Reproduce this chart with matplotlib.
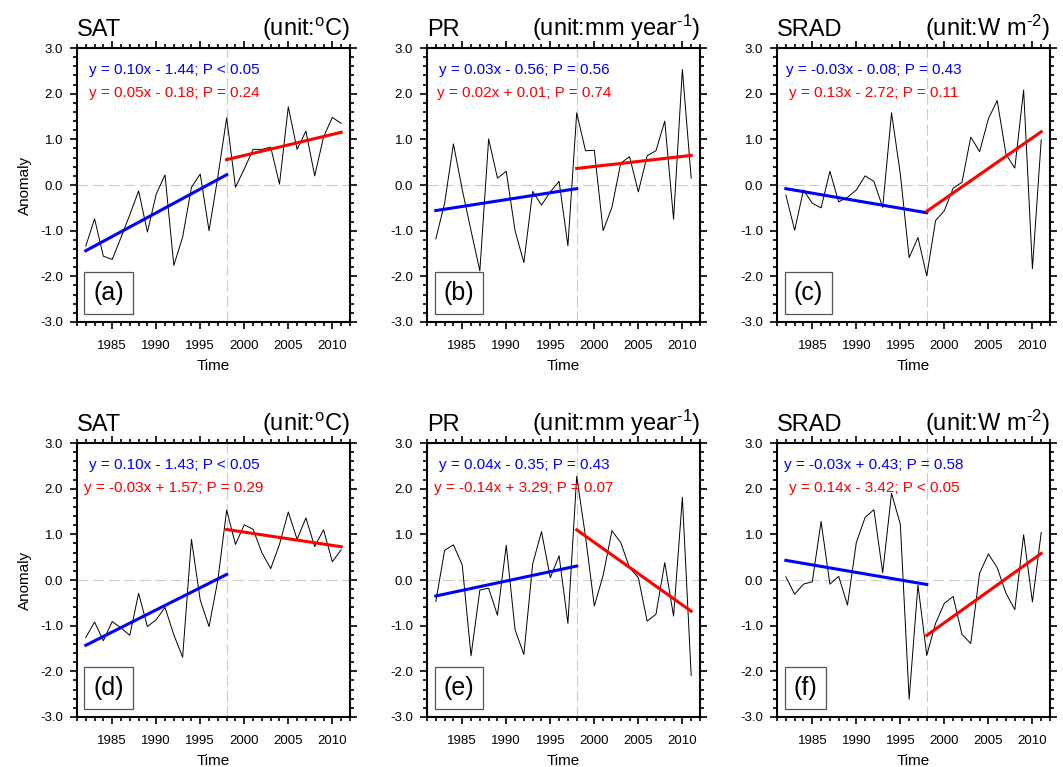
import numpy as np
import matplotlib
matplotlib.use('Agg')
import matplotlib.pyplot as plt
from matplotlib.offsetbox import AnchoredText
from matplotlib.ticker import MultipleLocator, FormatStrFormatter

plt.rcParams['font.family'] = ['Liberation Sans', 'DejaVu Sans']
plt.rcParams['mathtext.fontset'] = 'custom'
plt.rcParams['mathtext.rm'] = 'Liberation Sans'
plt.rcParams['mathtext.it'] = 'Liberation Sans:italic'
plt.rcParams['axes.unicode_minus'] = False

# 年份 1982-2011, 1998 为分段点
years = np.arange(1982, 2012)
split_year = 1998

# 各变量距平序列
sat_a = [-1.34, -0.74, -1.56, -1.63, -1.15, -0.65, -0.13, -1.03, -0.20, 0.22,
         -1.76, -1.14, -0.05, 0.24, -1.00, 0.18, 1.47, -0.05, 0.35, 0.78,
         0.78, 0.83, 0.02, 1.71, 0.78, 1.18, 0.20, 1.05, 1.48, 1.35]
pr_b = [-1.18, -0.40, 0.90, -0.10, -1.00, -1.88, 1.01, 0.15, 0.30, -1.00,
        -1.70, -0.14, -0.44, -0.15, 0.08, -1.33, 1.58, 0.75, 0.76, -1.00,
        -0.49, 0.48, 0.62, -0.15, 0.64, 0.75, 1.40, -0.75, 2.53, 0.15]
srad_c = [-0.22, -0.99, -0.11, -0.40, -0.50, 0.30, -0.37, -0.27, -0.11, 0.20,
          0.08, -0.49, 1.58, 0.24, -1.59, -1.15, -1.99, -0.78, -0.56, -0.07,
          0.06, 1.05, 0.73, 1.45, 1.85, 0.67, 0.37, 2.08, -1.83, 0.99]
sat_d = [-1.26, -0.92, -1.33, -0.91, -1.05, -1.21, -0.29, -1.02, -0.87, -0.60,
         -1.20, -1.69, 0.89, -0.44, -1.02, 0.00, 1.53, 0.78, 1.21, 1.11,
         0.60, 0.25, 0.78, 1.49, 0.89, 1.36, 0.73, 1.10, 0.40, 0.66]
pr_e = [-0.47, 0.65, 0.77, 0.33, -1.66, -0.22, -0.18, -0.77, 0.76, -1.09,
        -1.63, 0.35, 1.06, 0.05, 0.53, -0.95, 2.27, 0.95, -0.57, 0.10,
        1.08, 0.82, 0.27, 0.05, -0.90, -0.75, 0.38, -0.79, 1.81, -2.09]
srad_f = [0.07, -0.31, -0.09, -0.04, 1.28, -0.09, 0.08, -0.55, 0.82, 1.37,
          1.54, 0.16, 1.90, 1.22, -2.61, -0.11, -1.65, -0.95, -0.51, -0.36,
          -1.19, -1.39, 0.15, 0.57, 0.27, -0.29, -0.65, 0.99, -0.48, 1.04]
series = [sat_a, pr_b, srad_c, sat_d, pr_e, srad_f]

# 线性趋势 y = k*x + b, x = 年份 - 1982
early_slope = [0.104, 0.030, -0.033, 0.097, 0.041, -0.033]
early_icpt = [-1.44, -0.56, -0.08, -1.43, -0.35, 0.43]
early_p = ['< 0.05', '= 0.56', '= 0.43', '< 0.05', '= 0.43', '= 0.58']
late_slope = [0.046, 0.022, 0.134, -0.029, -0.137, 0.138]
late_icpt = [-0.18, 0.01, -2.72, 1.57, 3.29, -3.42]
late_p = ['= 0.24', '= 0.74', '= 0.11', '= 0.29', '= 0.07', '< 0.05']

var_names = ['SAT', 'PR', 'SRAD', 'SAT', 'PR', 'SRAD']
units = [r'(unit:$^{\rm o}$C)', r'(unit:mm year$^{\text{-1}}$)',
         r'(unit:W m$^{\text{-2}}$)'] * 2
panel_tags = ['(a)', '(b)', '(c)', '(d)', '(e)', '(f)']


def eq_text(k, b, p):
    sign = '+' if b >= 0 else '-'
    return f'y = {k:.2f}x {sign} {abs(b):.2f}; P {p}'


fig = plt.figure(figsize=(10.63, 7.67), dpi=100)
lefts = [0.0724, 0.4017, 0.731]
bottoms = [0.5802, 0.0652]
w, h = 0.2568, 0.3572

for i in range(6):
    row, col = divmod(i, 3)
    ax = fig.add_axes([lefts[col], bottoms[row], w, h])

    # 参考线
    ax.axhline(0, color='#cccccc', lw=0.8, ls=(0, (10, 4)), zorder=1)
    ax.axvline(split_year, color='#cccccc', lw=0.8, ls=(0, (10, 4)), zorder=1)

    ax.plot(years, series[i], color='black', lw=0.7, zorder=2)

    # 分段趋势线
    x0 = np.array([years[0], split_year])
    x1 = np.array([split_year, years[-1]])
    ax.plot(x0, early_slope[i] * (x0 - years[0]) + early_icpt[i],
            color='#0000ff', lw=2.2, zorder=3)
    ax.plot(x1, late_slope[i] * (x1 - years[0]) + late_icpt[i],
            color='#ff0000', lw=2.2, zorder=3)

    ax.text(1992, 2.52, eq_text(early_slope[i], early_icpt[i], early_p[i]),
            color='#0000ff', fontsize=11, ha='center', va='center')
    ax.text(1992, 2.02, eq_text(late_slope[i], late_icpt[i], late_p[i]),
            color='#ff0000', fontsize=11, ha='center', va='center')

    at = AnchoredText(panel_tags[i], loc='lower left', prop=dict(size=18),
                      frameon=True, pad=0.36, borderpad=0.3)
    at.patch.set_edgecolor('#555555')
    at.patch.set_linewidth(0.9)
    ax.add_artist(at)

    ax.set_xlim(1981, 2012)
    ax.set_ylim(-3, 3)
    ax.xaxis.set_major_locator(MultipleLocator(5))
    ax.xaxis.set_minor_locator(MultipleLocator(1))
    ax.yaxis.set_major_locator(MultipleLocator(1))
    ax.yaxis.set_minor_locator(MultipleLocator(0.2))
    ax.yaxis.set_major_formatter(FormatStrFormatter('%.1f'))
    ax.tick_params(which='both', direction='out', top=True, right=True, width=1.2)
    ax.tick_params(which='major', length=5, labelsize=9.5)
    ax.tick_params(which='minor', length=3)
    ax.tick_params(axis='y', pad=5)
    ax.tick_params(axis='x', pad=8)
    for s in ax.spines.values():
        s.set_linewidth(1.5)

    ax.set_xlabel('Time', fontsize=11, labelpad=5)
    if col == 0:
        ax.set_ylabel('Anomaly', fontsize=11, labelpad=6)
    ax.set_title(var_names[i], loc='left', fontsize=17, pad=9)
    ax.set_title(units[i], loc='right', fontsize=17, pad=9)

plt.savefig('out.png', dpi=100)
